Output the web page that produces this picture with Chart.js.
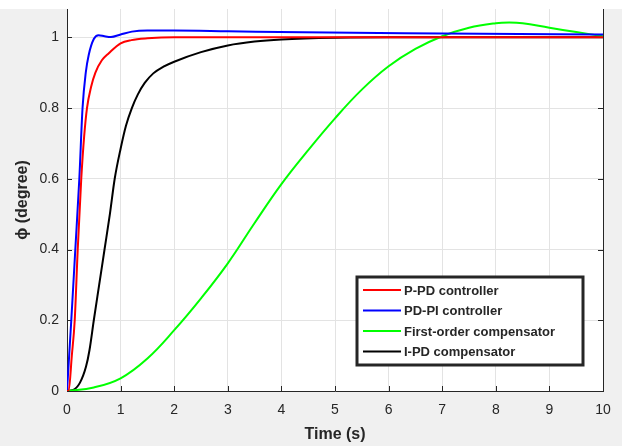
<!DOCTYPE html>
<html>
<head>
<meta charset="utf-8">
<script src="https://cdn.jsdelivr.net/npm/chart.js@4/dist/chart.umd.min.js"></script>
<style>
  html, body { margin: 0; padding: 0; background: #f0f0f0; }
  canvas { display: block; }
</style>
</head>
<body>
<canvas id="respChart" width="622" height="446"></canvas>
<script>
// Step responses (time in s, phi in degree)
const tRed = [0, 0.03, 0.09, 0.144, 0.2, 0.266, 0.32, 0.373, 0.45, 0.53, 0.65, 0.78, 1.0, 1.2, 1.5, 2, 3, 10];
const pRed = [0, 0, 0.1, 0.2, 0.4, 0.6, 0.72, 0.8, 0.86, 0.9, 0.935, 0.955, 0.983, 0.992, 0.997, 1.0, 1.0, 1.0];

const tBlue = [0, 0.08, 0.155, 0.23, 0.29, 0.35, 0.405, 0.5, 0.59, 0.7, 0.82, 1.0, 1.21, 1.5, 2, 3, 4.4, 7, 10];
const pBlue = [0, 0.2, 0.4, 0.6, 0.8, 0.9, 0.95, 0.995, 1.006, 1.003, 1.001, 1.008, 1.016, 1.019, 1.019, 1.017, 1.014, 1.011, 1.008];

const tGreen = [0, 0.5, 1, 1.5, 2, 2.5, 3, 3.5, 4, 4.5, 5, 5.5, 6, 6.5, 7, 7.5, 8, 8.25, 8.5, 9, 9.5, 10];
const pGreen = [0, 0.01, 0.036, 0.092, 0.172, 0.262, 0.361, 0.475, 0.585, 0.681, 0.771, 0.852, 0.918, 0.967, 1.003, 1.027, 1.040, 1.042, 1.040, 1.027, 1.015, 1.003];

const tBlack = [0, 0.1, 0.24, 0.355, 0.42, 0.5, 0.6, 0.7, 0.8, 0.89, 1.0, 1.1, 1.21, 1.32, 1.45, 1.61, 1.8, 2, 2.5, 3, 3.5, 4, 5, 6, 10];
const pBlack = [0, 0.002, 0.023, 0.069, 0.116, 0.2, 0.3, 0.4, 0.5, 0.6, 0.685, 0.75, 0.8, 0.838, 0.871, 0.898, 0.917, 0.931, 0.958, 0.977, 0.988, 0.994, 0.999, 1.0, 1.0];

const seriesNames = ['P-PD controller', 'PD-PI controller', 'First-order compensator', 'I-PD compensator'];
const seriesColors = ['#ff0000', '#0000ff', '#00ff00', '#000000'];

const xTicks = [0, 1, 2, 3, 4, 5, 6, 7, 8, 9, 10];
const yTicks = [0, 0.2, 0.4, 0.6, 0.8, 1];
const yTickLabels = ['0', '0.2', '0.4', '0.6', '0.8', '1'];

const FONT = '"Liberation Sans", Arial, sans-serif';
const AXIS = '#262626';

function toPoints(ts, ps) {
    return ts.map((t, i) => ({ x: t, y: ps[i] }));
}

const seriesData = [
    toPoints(tRed, pRed),
    toPoints(tBlue, pBlue),
    toPoints(tGreen, pGreen),
    toPoints(tBlack, pBlack)
];

// gray figure background, white axes area and white strip on top
const backdrop = {
    id: 'backdrop',
    beforeDraw(chart) {
        const { ctx, chartArea: a } = chart;
        ctx.save();
        ctx.fillStyle = '#f0f0f0';
        ctx.fillRect(0, 0, chart.width, chart.height);
        ctx.fillStyle = '#ffffff';
        ctx.fillRect(0, 0, chart.width, a.top);
        ctx.fillRect(a.left, 0, a.right - a.left, a.bottom);
        ctx.restore();
    }
};

// MATLAB-style box: right edge plus inward tick marks
const boxTicks = {
    id: 'boxTicks',
    beforeDatasetsDraw(chart) {
        const { ctx, chartArea: a, scales } = chart;
        ctx.save();
        ctx.strokeStyle = AXIS;
        ctx.lineWidth = 1;
        ctx.beginPath();
        ctx.moveTo(a.right + 0.5, a.top);
        ctx.lineTo(a.right + 0.5, a.bottom);
        xTicks.forEach(v => {
            const x = Math.round(scales.x.getPixelForValue(v)) + 0.5;
            ctx.moveTo(x, a.bottom);
            ctx.lineTo(x, a.bottom - 5);
        });
        yTicks.forEach(v => {
            const y = Math.round(scales.y.getPixelForValue(v)) + 0.5;
            ctx.moveTo(a.left, y);
            ctx.lineTo(a.left + 5, y);
            ctx.moveTo(a.right, y);
            ctx.lineTo(a.right - 5, y);
        });
        ctx.stroke();
        ctx.restore();
    }
};

// legend box inside the lower right of the axes
const insideLegend = {
    id: 'insideLegend',
    afterDraw(chart) {
        const { ctx, chartArea: a } = chart;
        const w = 226, h = 88;
        const x0 = a.right - 20 - w, y0 = a.bottom - 26 - h;
        ctx.save();
        ctx.fillStyle = '#ffffff';
        ctx.fillRect(x0, y0, w, h);
        ctx.strokeStyle = AXIS;
        ctx.lineWidth = 3;
        ctx.strokeRect(x0, y0, w, h);
        ctx.font = 'bold 13px ' + FONT;
        ctx.textBaseline = 'middle';
        ctx.fillStyle = AXIS;
        chart.data.datasets.forEach((ds, i) => {
            const y = y0 + 13 + i * 20.5;
            ctx.strokeStyle = ds.borderColor;
            ctx.lineWidth = 2;
            ctx.beginPath();
            ctx.moveTo(x0 + 6, y);
            ctx.lineTo(x0 + 44, y);
            ctx.stroke();
            ctx.fillText(ds.label, x0 + 47, y + 1);
        });
        ctx.restore();
    }
};

const respChart = new Chart(document.getElementById('respChart').getContext('2d'), {
    type: 'line',
    data: {
        datasets: seriesData.map((pts, i) => ({
            label: seriesNames[i],
            data: pts,
            borderColor: seriesColors[i],
            backgroundColor: 'transparent',
            borderWidth: 2,
            pointRadius: 0,
            tension: 0.4,
            cubicInterpolationMode: i === 2 ? 'default' : 'monotone'
        }))
    },
    options: {
        responsive: false,
        animation: false,
        devicePixelRatio: 1,
        layout: { padding: { top: 9, right: 19, left: 0, bottom: 0 } },
        plugins: {
            legend: { display: false },
            tooltip: { enabled: false }
        },
        scales: {
            x: {
                type: 'linear',
                min: 0,
                max: 10,
                afterBuildTicks: s => { s.ticks = xTicks.map(v => ({ value: v })); },
                afterFit: s => { s.height = 55; },
                grid: { color: '#e3e3e3', drawTicks: false },
                border: { color: AXIS },
                ticks: { color: AXIS, padding: 11, maxRotation: 0, font: { family: FONT, size: 14 } },
                title: {
                    display: true,
                    text: 'Time (s)',
                    color: AXIS,
                    padding: { top: 2, bottom: 2 },
                    font: { family: FONT, size: 16, weight: 'bold' }
                }
            },
            y: {
                min: 0,
                max: 1.08,
                afterBuildTicks: s => { s.ticks = yTicks.map(v => ({ value: v })); },
                afterFit: s => { s.width = 67; s.paddingTop = 0; s.paddingBottom = 0; },
                grid: { color: '#e3e3e3', drawTicks: false },
                border: { color: AXIS },
                ticks: {
                    color: AXIS,
                    padding: 8,
                    font: { family: FONT, size: 14 },
                    callback: (v, i) => yTickLabels[i]
                },
                title: {
                    display: true,
                    text: '\u03D5 (degree)',
                    color: AXIS,
                    padding: { top: 13, bottom: 0 },
                    font: { family: FONT, size: 16, weight: 'bold' }
                }
            }
        }
    },
    plugins: [backdrop, boxTicks, insideLegend]
});
</script>
</body>
</html>
